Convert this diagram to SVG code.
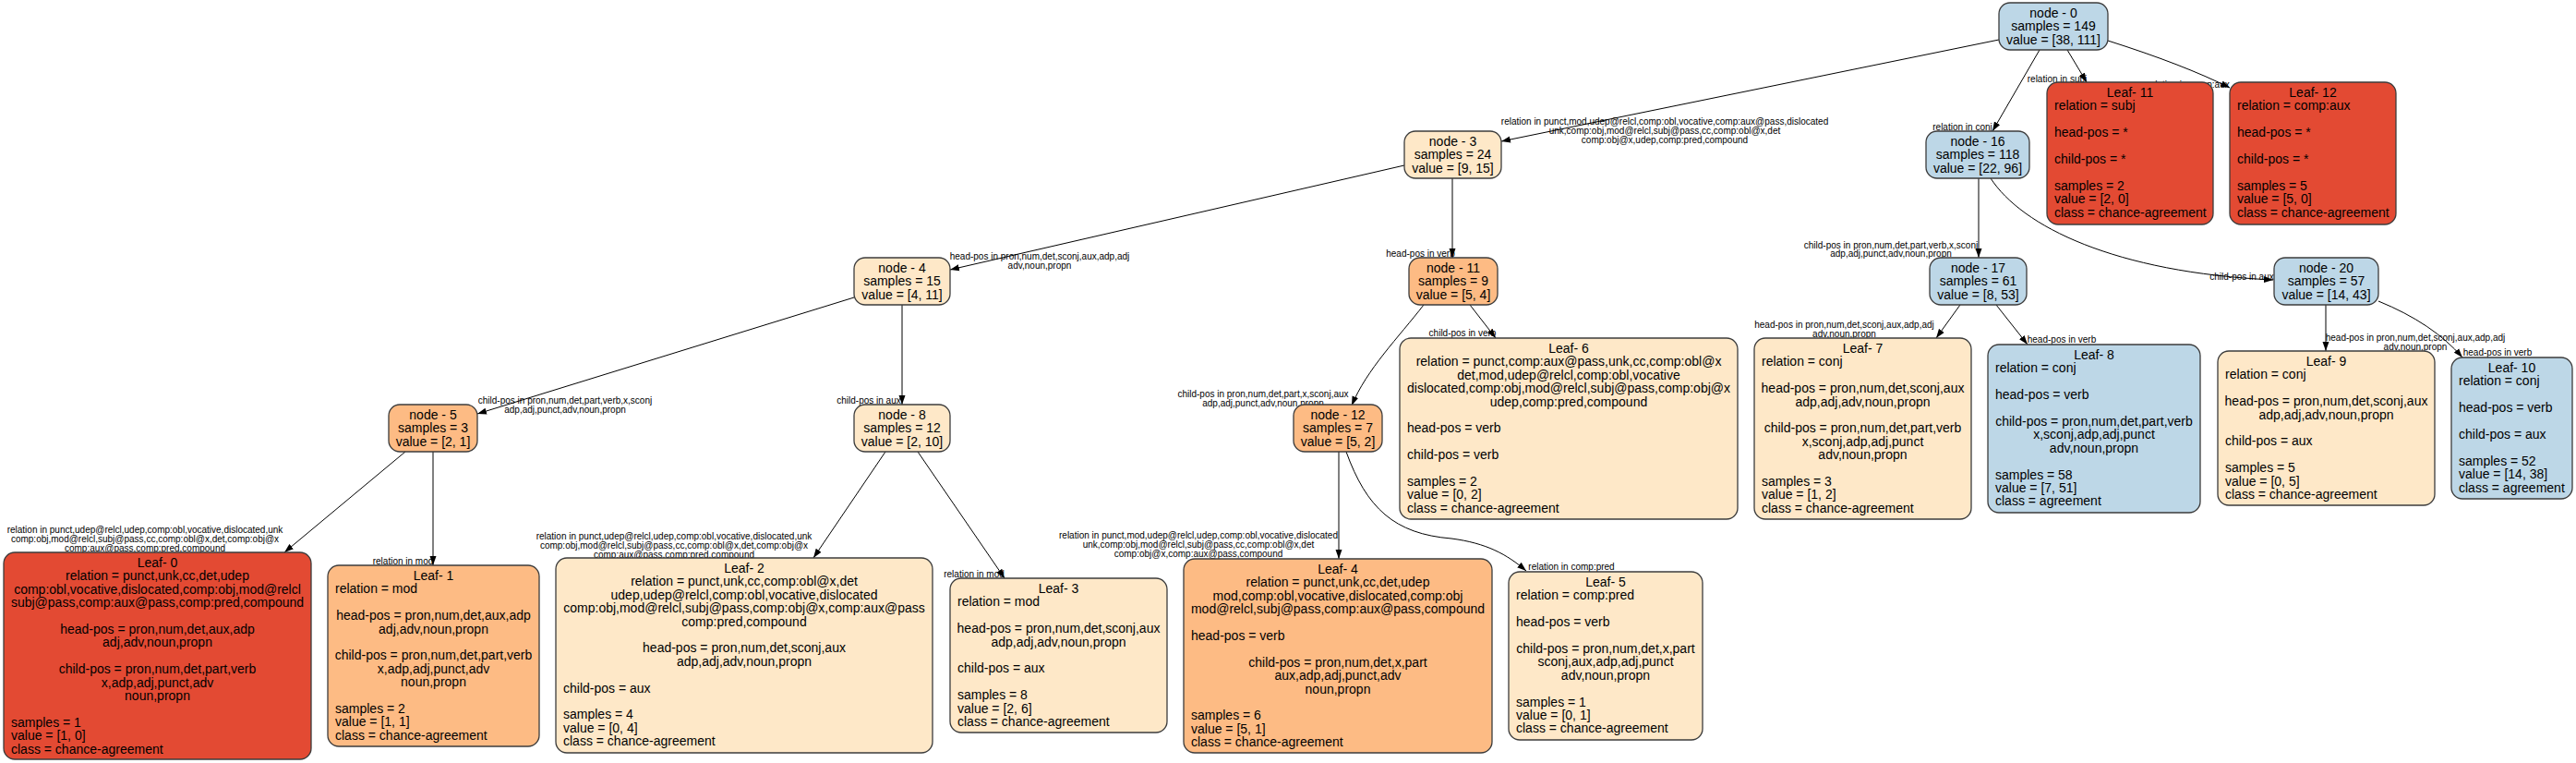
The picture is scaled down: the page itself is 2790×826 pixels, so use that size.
<svg xmlns="http://www.w3.org/2000/svg" width="2790" height="826" viewBox="0 0 2790 826">
<defs>
<style>
.box{stroke:#3c3c3c;stroke-width:1.3}
.blue{fill:#bdd7e7}.pale{fill:#fee8c8}.mid{fill:#fdbb84}.red{fill:#e34a33}
text{font-family:"Liberation Sans",Arial,Helvetica,sans-serif;fill:#000}
.t{font-size:14px}
.c{text-anchor:middle}
.el{font-size:10px;text-anchor:middle}
.e{fill:none;stroke:#000;stroke-width:1;marker-end:url(#arr)}
</style>
<marker id="arr" markerUnits="userSpaceOnUse" markerWidth="10" markerHeight="8" viewBox="0 0 10 8" refX="10" refY="4" orient="auto">
<path d="M0,0.5 L10,4 L0,7.5 z" fill="#000"/>
</marker>
</defs>
<rect width="2790" height="826" fill="#fff"/>

<g id="connectors">
<path class="e" d="M2165,43 L1626,153"/>
<path class="e" d="M2209,54 L2158,142"/>
<path class="e" d="M2239,54 L2260,89"/>
<path class="e" d="M2283,44 Q2365,70 2415,95"/>
<path class="e" d="M1521,179 L1029,292"/>
<path class="e" d="M1573,193 L1573,279"/>
<path class="e" d="M925,322 L517,448"/>
<path class="e" d="M977,330 L977,438"/>
<path class="e" d="M439,489 L308,598"/>
<path class="e" d="M469,489 L469,612"/>
<path class="e" d="M959,489 L881,604"/>
<path class="e" d="M994,489 L1088,626"/>
<path class="e" d="M1542,330 C1515,365 1480,400 1464,439"/>
<path class="e" d="M1592,330 L1620,366"/>
<path class="e" d="M1450,489 L1450,605"/>
<path class="e" d="M1458,489 C1480,550 1510,578 1572,583 C1610,588 1632,600 1653,618"/>
<path class="e" d="M2143,193 L2143,279"/>
<path class="e" d="M2156,193 C2190,245 2290,295 2462,303"/>
<path class="e" d="M2123,330 L2097,366"/>
<path class="e" d="M2162,330 L2196,373"/>
<path class="e" d="M2519,330 L2519,380"/>
<path class="e" d="M2576,326 Q2635,350 2667,387"/>

<text class="el" x="1803" y="134.5">relation in punct,mod,udep@relcl,comp:obl,vocative,comp:aux@pass,dislocated</text>
<text class="el" x="1803" y="144.5">unk,comp:obj,mod@relcl,subj@pass,cc,comp:obl@x,det</text>
<text class="el" x="1803" y="154.5">comp:obj@x,udep,comp:pred,compound</text>
<text class="el" x="2125.5" y="140.5">relation in conj</text>
<text class="el" x="2228" y="88.5">relation in subj</text>
<text class="el" x="2370" y="94.5">relation in comp:aux</text>
<text class="el" x="1126" y="280.5">head-pos in pron,num,det,sconj,aux,adp,adj</text>
<text class="el" x="1126" y="291">adv,noun,propn</text>
<text class="el" x="1538.5" y="277.5">head-pos in verb</text>
<text class="el" x="612" y="437">child-pos in pron,num,det,part,verb,x,sconj</text>
<text class="el" x="612" y="447">adp,adj,punct,adv,noun,propn</text>
<text class="el" x="941" y="436.5">child-pos in aux</text>
<text class="el" x="157" y="576.5">relation in punct,udep@relcl,udep,comp:obl,vocative,dislocated,unk</text>
<text class="el" x="157" y="586.5">comp:obj,mod@relcl,subj@pass,cc,comp:obl@x,det,comp:obj@x</text>
<text class="el" x="157" y="596.5">comp:aux@pass,comp:pred,compound</text>
<text class="el" x="436.5" y="610.5">relation in mod</text>
<text class="el" x="730" y="583.5">relation in punct,udep@relcl,udep,comp:obl,vocative,dislocated,unk</text>
<text class="el" x="730" y="593.5">comp:obj,mod@relcl,subj@pass,cc,comp:obl@x,det,comp:obj@x</text>
<text class="el" x="730" y="603.5">comp:aux@pass,comp:pred,compound</text>
<text class="el" x="1055" y="624.5">relation in mod</text>
<text class="el" x="1368" y="430">child-pos in pron,num,det,part,x,sconj,aux</text>
<text class="el" x="1368" y="440">adp,adj,punct,adv,noun,propn</text>
<text class="el" x="1584" y="363.5">child-pos in verb</text>
<text class="el" x="1298" y="582.5">relation in punct,mod,udep@relcl,udep,comp:obl,vocative,dislocated</text>
<text class="el" x="1298" y="592.5">unk,comp:obj,mod@relcl,subj@pass,cc,comp:obl@x,det</text>
<text class="el" x="1298" y="602.5">comp:obj@x,comp:aux@pass,compound</text>
<text class="el" x="1702" y="616.5">relation in comp:pred</text>
<text class="el" x="2048" y="268.5">child-pos in pron,num,det,part,verb,x,sconj</text>
<text class="el" x="2048" y="278">adp,adj,punct,adv,noun,propn</text>
<text class="el" x="2428" y="302.5">child-pos in aux</text>
<text class="el" x="1997.5" y="354.5">head-pos in pron,num,det,sconj,aux,adp,adj</text>
<text class="el" x="1997.5" y="364.5">adv,noun,propn</text>
<text class="el" x="2233" y="370.5">head-pos in verb</text>
<text class="el" x="2616" y="368.5">head-pos in pron,num,det,sconj,aux,adp,adj</text>
<text class="el" x="2616" y="378.5">adv,noun,propn</text>
<text class="el" x="2705" y="384.5">head-pos in verb</text>
</g>

<g id="node-0"><rect class="box blue" x="2165" y="3" width="118" height="51" rx="12"/>
<text class="t c" x="2224" y="19">node - 0</text><text class="t c" x="2224" y="33.4">samples = 149</text><text class="t c" x="2224" y="47.8">value = [38, 111]</text></g>

<g id="node-3"><rect class="box pale" x="1521" y="142" width="105" height="51" rx="12"/>
<text class="t c" x="1573.5" y="158">node - 3</text><text class="t c" x="1573.5" y="172.4">samples = 24</text><text class="t c" x="1573.5" y="186.8">value = [9, 15]</text></g>

<g id="node-16"><rect class="box blue" x="2086" y="142" width="112" height="51" rx="12"/>
<text class="t c" x="2142" y="158">node - 16</text><text class="t c" x="2142" y="172.4">samples = 118</text><text class="t c" x="2142" y="186.8">value = [22, 96]</text></g>

<g id="node-4"><rect class="box pale" x="925" y="279" width="104" height="51" rx="12"/>
<text class="t c" x="977" y="295">node - 4</text><text class="t c" x="977" y="309.4">samples = 15</text><text class="t c" x="977" y="323.8">value = [4, 11]</text></g>

<g id="node-11"><rect class="box mid" x="1526" y="279" width="96" height="51" rx="12"/>
<text class="t c" x="1574" y="295">node - 11</text><text class="t c" x="1574" y="309.4">samples = 9</text><text class="t c" x="1574" y="323.8">value = [5, 4]</text></g>

<g id="node-17"><rect class="box blue" x="2090" y="279" width="105" height="51" rx="12"/>
<text class="t c" x="2142.5" y="295">node - 17</text><text class="t c" x="2142.5" y="309.4">samples = 61</text><text class="t c" x="2142.5" y="323.8">value = [8, 53]</text></g>

<g id="node-20"><rect class="box blue" x="2463" y="279" width="113" height="51" rx="12"/>
<text class="t c" x="2519.5" y="295">node - 20</text><text class="t c" x="2519.5" y="309.4">samples = 57</text><text class="t c" x="2519.5" y="323.8">value = [14, 43]</text></g>

<g id="node-5"><rect class="box mid" x="421" y="438" width="96" height="51" rx="12"/>
<text class="t c" x="469" y="454">node - 5</text><text class="t c" x="469" y="468.4">samples = 3</text><text class="t c" x="469" y="482.8">value = [2, 1]</text></g>

<g id="node-8"><rect class="box pale" x="925" y="438" width="104" height="51" rx="12"/>
<text class="t c" x="977" y="454">node - 8</text><text class="t c" x="977" y="468.4">samples = 12</text><text class="t c" x="977" y="482.8">value = [2, 10]</text></g>

<g id="node-12"><rect class="box mid" x="1401" y="438" width="96" height="51" rx="12"/>
<text class="t c" x="1449" y="454">node - 12</text><text class="t c" x="1449" y="468.4">samples = 7</text><text class="t c" x="1449" y="482.8">value = [5, 2]</text></g>

<g id="leaf-0"><rect class="box red" x="4" y="598" width="333" height="224" rx="12"/>
<text class="t c" x="170.5" y="614">Leaf- 0</text>
<text class="t c" x="170.5" y="628.4">relation = punct,unk,cc,det,udep</text>
<text class="t c" x="170.5" y="642.8">comp:obl,vocative,dislocated,comp:obj,mod@relcl</text>
<text class="t c" x="170.5" y="657.2">subj@pass,comp:aux@pass,comp:pred,compound</text>
<text class="t c" x="170.5" y="686">head-pos = pron,num,det,aux,adp</text>
<text class="t c" x="170.5" y="700.4">adj,adv,noun,propn</text>
<text class="t c" x="170.5" y="729.2">child-pos = pron,num,det,part,verb</text>
<text class="t c" x="170.5" y="743.6">x,adp,adj,punct,adv</text>
<text class="t c" x="170.5" y="758">noun,propn</text>
<text class="t" x="12" y="786.8">samples = 1</text>
<text class="t" x="12" y="801.2">value = [1, 0]</text>
<text class="t" x="12" y="815.6">class = chance-agreement</text></g>

<g id="leaf-1"><rect class="box mid" x="355" y="612" width="229" height="196" rx="12"/>
<text class="t c" x="469.5" y="628">Leaf- 1</text>
<text class="t" x="363" y="642.4">relation = mod</text>
<text class="t c" x="469.5" y="671.2">head-pos = pron,num,det,aux,adp</text>
<text class="t c" x="469.5" y="685.6">adj,adv,noun,propn</text>
<text class="t c" x="469.5" y="714.4">child-pos = pron,num,det,part,verb</text>
<text class="t c" x="469.5" y="728.8">x,adp,adj,punct,adv</text>
<text class="t c" x="469.5" y="743.2">noun,propn</text>
<text class="t" x="363" y="772">samples = 2</text>
<text class="t" x="363" y="786.4">value = [1, 1]</text>
<text class="t" x="363" y="800.8">class = chance-agreement</text></g>

<g id="leaf-2"><rect class="box pale" x="602" y="604" width="408" height="211" rx="12"/>
<text class="t c" x="806" y="620">Leaf- 2</text>
<text class="t c" x="806" y="634.4">relation = punct,unk,cc,comp:obl@x,det</text>
<text class="t c" x="806" y="648.8">udep,udep@relcl,comp:obl,vocative,dislocated</text>
<text class="t c" x="806" y="663.2">comp:obj,mod@relcl,subj@pass,comp:obj@x,comp:aux@pass</text>
<text class="t c" x="806" y="677.6">comp:pred,compound</text>
<text class="t c" x="806" y="706.4">head-pos = pron,num,det,sconj,aux</text>
<text class="t c" x="806" y="720.8">adp,adj,adv,noun,propn</text>
<text class="t" x="610" y="749.6">child-pos = aux</text>
<text class="t" x="610" y="778.4">samples = 4</text>
<text class="t" x="610" y="792.8">value = [0, 4]</text>
<text class="t" x="610" y="807.2">class = chance-agreement</text></g>

<g id="leaf-3"><rect class="box pale" x="1029" y="626" width="235" height="167" rx="12"/>
<text class="t c" x="1146.5" y="642">Leaf- 3</text>
<text class="t" x="1037" y="656.4">relation = mod</text>
<text class="t c" x="1146.5" y="685.2">head-pos = pron,num,det,sconj,aux</text>
<text class="t c" x="1146.5" y="699.6">adp,adj,adv,noun,propn</text>
<text class="t" x="1037" y="728.4">child-pos = aux</text>
<text class="t" x="1037" y="757.2">samples = 8</text>
<text class="t" x="1037" y="771.6">value = [2, 6]</text>
<text class="t" x="1037" y="786">class = chance-agreement</text></g>

<g id="leaf-4"><rect class="box mid" x="1282" y="605" width="334" height="210" rx="12"/>
<text class="t c" x="1449" y="621">Leaf- 4</text>
<text class="t c" x="1449" y="635.4">relation = punct,unk,cc,det,udep</text>
<text class="t c" x="1449" y="649.8">mod,comp:obl,vocative,dislocated,comp:obj</text>
<text class="t c" x="1449" y="664.2">mod@relcl,subj@pass,comp:aux@pass,compound</text>
<text class="t" x="1290" y="693">head-pos = verb</text>
<text class="t c" x="1449" y="721.8">child-pos = pron,num,det,x,part</text>
<text class="t c" x="1449" y="736.2">aux,adp,adj,punct,adv</text>
<text class="t c" x="1449" y="750.6">noun,propn</text>
<text class="t" x="1290" y="779.4">samples = 6</text>
<text class="t" x="1290" y="793.8">value = [5, 1]</text>
<text class="t" x="1290" y="808.2">class = chance-agreement</text></g>

<g id="leaf-5"><rect class="box pale" x="1634" y="619" width="210" height="182" rx="12"/>
<text class="t c" x="1739" y="635">Leaf- 5</text>
<text class="t" x="1642" y="649.4">relation = comp:pred</text>
<text class="t" x="1642" y="678.2">head-pos = verb</text>
<text class="t c" x="1739" y="707">child-pos = pron,num,det,x,part</text>
<text class="t c" x="1739" y="721.4">sconj,aux,adp,adj,punct</text>
<text class="t c" x="1739" y="735.8">adv,noun,propn</text>
<text class="t" x="1642" y="764.6">samples = 1</text>
<text class="t" x="1642" y="779">value = [0, 1]</text>
<text class="t" x="1642" y="793.4">class = chance-agreement</text></g>

<g id="leaf-6"><rect class="box pale" x="1516" y="366" width="366" height="196" rx="12"/>
<text class="t c" x="1699" y="382">Leaf- 6</text>
<text class="t c" x="1699" y="396.4">relation = punct,comp:aux@pass,unk,cc,comp:obl@x</text>
<text class="t c" x="1699" y="410.8">det,mod,udep@relcl,comp:obl,vocative</text>
<text class="t c" x="1699" y="425.2">dislocated,comp:obj,mod@relcl,subj@pass,comp:obj@x</text>
<text class="t c" x="1699" y="439.6">udep,comp:pred,compound</text>
<text class="t" x="1524" y="468.4">head-pos = verb</text>
<text class="t" x="1524" y="497.2">child-pos = verb</text>
<text class="t" x="1524" y="526">samples = 2</text>
<text class="t" x="1524" y="540.4">value = [0, 2]</text>
<text class="t" x="1524" y="554.8">class = chance-agreement</text></g>

<g id="leaf-7"><rect class="box pale" x="1900" y="366" width="235" height="196" rx="12"/>
<text class="t c" x="2017.5" y="382">Leaf- 7</text>
<text class="t" x="1908" y="396.4">relation = conj</text>
<text class="t c" x="2017.5" y="425.2">head-pos = pron,num,det,sconj,aux</text>
<text class="t c" x="2017.5" y="439.6">adp,adj,adv,noun,propn</text>
<text class="t c" x="2017.5" y="468.4">child-pos = pron,num,det,part,verb</text>
<text class="t c" x="2017.5" y="482.8">x,sconj,adp,adj,punct</text>
<text class="t c" x="2017.5" y="497.2">adv,noun,propn</text>
<text class="t" x="1908" y="526">samples = 3</text>
<text class="t" x="1908" y="540.4">value = [1, 2]</text>
<text class="t" x="1908" y="554.8">class = chance-agreement</text></g>

<g id="leaf-8"><rect class="box blue" x="2153" y="373" width="230" height="182" rx="12"/>
<text class="t c" x="2268" y="389">Leaf- 8</text>
<text class="t" x="2161" y="403.4">relation = conj</text>
<text class="t" x="2161" y="432.2">head-pos = verb</text>
<text class="t c" x="2268" y="461">child-pos = pron,num,det,part,verb</text>
<text class="t c" x="2268" y="475.4">x,sconj,adp,adj,punct</text>
<text class="t c" x="2268" y="489.8">adv,noun,propn</text>
<text class="t" x="2161" y="518.6">samples = 58</text>
<text class="t" x="2161" y="533">value = [7, 51]</text>
<text class="t" x="2161" y="547.4">class = agreement</text></g>

<g id="leaf-9"><rect class="box pale" x="2402" y="380" width="235" height="167" rx="12"/>
<text class="t c" x="2519.5" y="396">Leaf- 9</text>
<text class="t" x="2410" y="410.4">relation = conj</text>
<text class="t c" x="2519.5" y="439.2">head-pos = pron,num,det,sconj,aux</text>
<text class="t c" x="2519.5" y="453.6">adp,adj,adv,noun,propn</text>
<text class="t" x="2410" y="482.4">child-pos = aux</text>
<text class="t" x="2410" y="511.2">samples = 5</text>
<text class="t" x="2410" y="525.6">value = [0, 5]</text>
<text class="t" x="2410" y="540">class = chance-agreement</text></g>

<g id="leaf-10"><rect class="box blue" x="2655" y="387" width="131" height="153" rx="12"/>
<text class="t c" x="2720.5" y="403">Leaf- 10</text>
<text class="t" x="2663" y="417.4">relation = conj</text>
<text class="t" x="2663" y="446.2">head-pos = verb</text>
<text class="t" x="2663" y="475">child-pos = aux</text>
<text class="t" x="2663" y="503.8">samples = 52</text>
<text class="t" x="2663" y="518.2">value = [14, 38]</text>
<text class="t" x="2663" y="532.6">class = agreement</text></g>

<g id="leaf-11"><rect class="box red" x="2217" y="89" width="180" height="154" rx="12"/>
<text class="t c" x="2307" y="105">Leaf- 11</text>
<text class="t" x="2225" y="119.4">relation = subj</text>
<text class="t" x="2225" y="148.2">head-pos = *</text>
<text class="t" x="2225" y="177">child-pos = *</text>
<text class="t" x="2225" y="205.8">samples = 2</text>
<text class="t" x="2225" y="220.2">value = [2, 0]</text>
<text class="t" x="2225" y="234.6">class = chance-agreement</text></g>

<g id="leaf-12"><rect class="box red" x="2415" y="89" width="180" height="154" rx="12"/>
<text class="t c" x="2505" y="105">Leaf- 12</text>
<text class="t" x="2423" y="119.4">relation = comp:aux</text>
<text class="t" x="2423" y="148.2">head-pos = *</text>
<text class="t" x="2423" y="177">child-pos = *</text>
<text class="t" x="2423" y="205.8">samples = 5</text>
<text class="t" x="2423" y="220.2">value = [5, 0]</text>
<text class="t" x="2423" y="234.6">class = chance-agreement</text></g>
</svg>
